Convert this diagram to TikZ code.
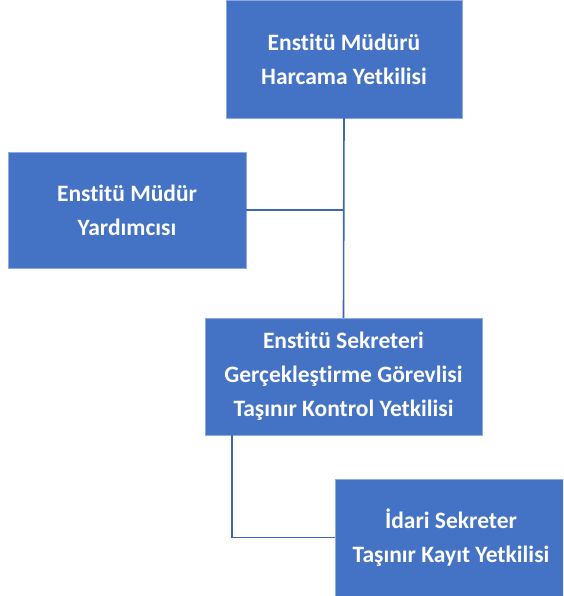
\documentclass[tikz,border=0pt]{standalone}
\usepackage{fontspec}
\setmainfont{Carlito}[Ligatures=NoCommon,Contextuals=NoAlternate]
\usetikzlibrary{positioning}
\definecolor{officeblue}{HTML}{4472C4}
\tikzset{unit/.style={draw=officeblue!60,fill=officeblue,text=white,font=\fontsize{23.5}{34}\selectfont\bfseries,align=center,inner sep=0pt},
         link/.style={draw=officeblue!90!black,line width=1.6pt},
        }

\begin{document}
\begin{tikzpicture}[x=1pt,y=1pt]
        \clip(0,0)rectangle(563,-596);
        \fill[white](0,0)rectangle(563,-596);
        \node[unit,minimum width=236pt,minimum height=118pt](mudur)at(344,-59){Enstitü Müdürü\\Harcama Yetkilisi};
        \node[unit,minimum width=238pt,minimum height=116pt](yrd)at(127,-210){Enstitü Müdür\\Yardımcısı};
        \node[unit,minimum width=277pt,minimum height=117pt](sekreter)at(343.5,-376.5){Enstitü Sekreteri\\Gerçekleştirme Görevlisi\\Taşınır Kontrol Yetkilisi};
        \node[unit,minimum width=232pt,minimum height=117pt](idari)at(451,-537.5){İdari Sekreter\\Taşınır Kayıt Yetkilisi};
        \coordinate(kol)at([xshift=27pt]sekreter.south west);
        \draw[link](mudur.south)--(sekreter.north);
        \draw[link](yrd.east)--(yrd.east-|mudur.south);
        \draw[link](kol)|-(idari.west);
    \end{tikzpicture}
\end{document}
